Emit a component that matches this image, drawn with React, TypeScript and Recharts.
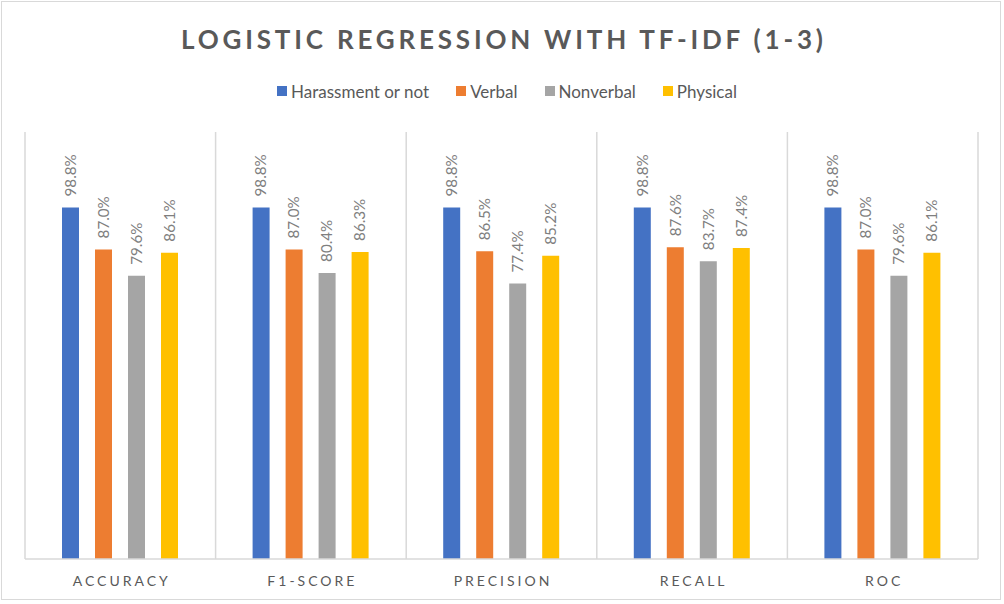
import React from 'react';
import { BarChart, Bar, XAxis, YAxis, CartesianGrid, LabelList } from 'recharts';

const categories = ['ACCURACY', 'F1-SCORE', 'PRECISION', 'RECALL', 'ROC'];
const harassment = [98.8, 98.8, 98.8, 98.8, 98.8];
const verbal = [87.0, 87.0, 86.5, 87.6, 87.0];
const nonverbal = [79.6, 80.4, 77.4, 83.7, 79.6];
const physical = [86.1, 86.3, 85.2, 87.4, 86.1];

const seriesKeys = ['harassment', 'verbal', 'nonverbal', 'physical'];
const seriesNames = ['Harassment or not', 'Verbal', 'Nonverbal', 'Physical'];
const seriesColors = ['#4472C4', '#ED7D31', '#A5A5A5', '#FFC000'];
const seriesValues = [harassment, verbal, nonverbal, physical];

const title = 'LOGISTIC REGRESSION WITH TF-IDF (1-3)';
const FONT = 'Lato, "Open Sans", sans-serif';

const data = categories.map((c, i) => {
  const row: Record<string, any> = { category: c };
  seriesKeys.forEach((k, j) => {
    row[k] = seriesValues[j][i];
  });
  return row;
});

const ValueLabel = (props: any) => {
  const { x, y, width, value } = props;
  const cx = x + width / 2 + 5.3;
  const ty = y - 11;
  return (
    <text
      x={cx}
      y={ty}
      transform={`rotate(-90, ${cx}, ${ty})`}
      textAnchor="start"
      fill="#7f7f7f"
      fontSize={15.2}
      fontFamily={FONT}
    >
      {`${Number(value).toFixed(1)}%`}
    </text>
  );
};

const CategoryTick = (props: any) => {
  const { x, y, payload } = props;
  return (
    <text
      x={x + 1.5}
      y={y}
      dy={19}
      textAnchor="middle"
      fill="#595959"
      fontSize={14}
      fontFamily={FONT}
      letterSpacing={3}
    >
      {payload.value}
    </text>
  );
};

export default function App() {
  return (
    <div style={{ position: 'absolute', left: 0, top: 0, width: 1004, height: 604, background: '#fff' }}>
      <div
        style={{
          position: 'absolute',
          left: 1,
          top: 1,
          width: 1000,
          height: 599,
          border: '1.5px solid #d9d9d9',
          boxSizing: 'border-box',
        }}
      />
      <svg style={{ position: 'absolute', left: 0, top: 0 }} width={1004} height={70}>
        <text
          x={181}
          y={49}
          textLength={642}
          lengthAdjust="spacing"
          fill="#595959"
          fontSize={26}
          fontWeight={700}
          fontFamily={FONT}
        >
          {title}
        </text>
      </svg>
      <div
        style={{
          position: 'absolute',
          left: 0,
          top: 80,
          width: 1014,
          height: 22,
          display: 'flex',
          justifyContent: 'center',
          alignItems: 'center',
          gap: 27,
          fontFamily: FONT,
          fontSize: 17,
          color: '#595959',
        }}
      >
        {seriesNames.map((n, i) => (
          <div key={n} style={{ display: 'flex', alignItems: 'center' }}>
            <div style={{ width: 10, height: 10, background: seriesColors[i], marginRight: 4 }} />
            <span>{n}</span>
          </div>
        ))}
      </div>
      <div style={{ position: 'absolute', left: 0, top: 0 }}>
        <BarChart
          width={1004}
          height={604}
          data={data}
          margin={{ top: 132, right: 26, bottom: 0, left: 25 }}
          barCategoryGap="20%"
          barGap={16}
          barSize={17}
        >
          <CartesianGrid
            horizontal={false}
            vertical
            stroke="#d9d9d9"
            strokeWidth={1.5}
            verticalCoordinatesGenerator={({ offset }: any) =>
              Array.from({ length: categories.length + 1 }, (_, i) => offset.left + (i * offset.width) / categories.length)
            }
          />
          <XAxis
            dataKey="category"
            height={45}
            axisLine={{ stroke: '#d9d9d9', strokeWidth: 1.5 }}
            tickLine={false}
            tick={<CategoryTick />}
            interval={0}
          />
          <YAxis hide domain={[0, 120]} />
          {seriesKeys.map((k, i) => (
            <Bar key={k} dataKey={k} name={seriesNames[i]} fill={seriesColors[i]} isAnimationActive={false}>
              <LabelList dataKey={k} content={<ValueLabel />} />
            </Bar>
          ))}
        </BarChart>
      </div>
    </div>
  );
}
